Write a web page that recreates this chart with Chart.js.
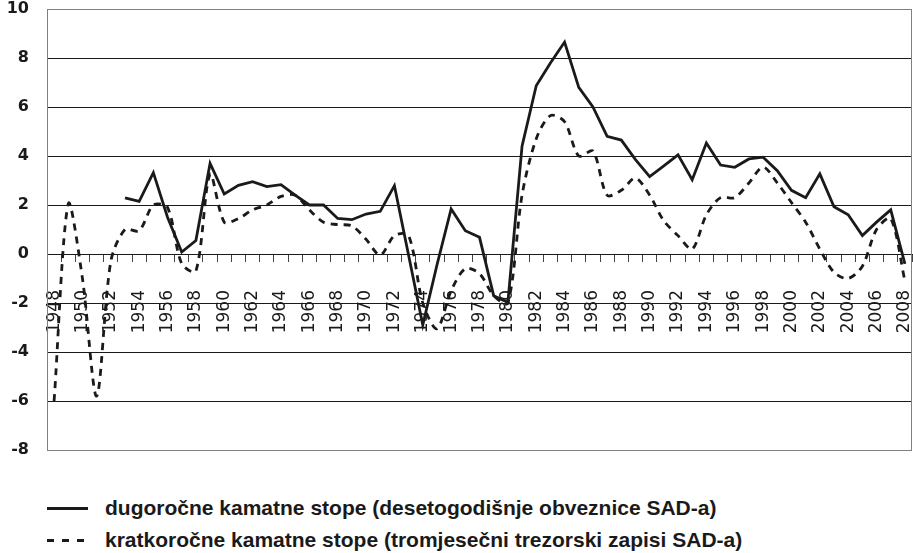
<!DOCTYPE html>
<html>
<head>
<meta charset="utf-8">
<script src="https://cdn.jsdelivr.net/npm/chart.js@4.4.1/dist/chart.umd.min.js"></script>
<style>
body{margin:0;background:#fff;width:913px;height:553px;overflow:hidden;position:relative;}
#wrap{position:absolute;left:0;top:0;width:913px;height:460px;}
.row{position:absolute;left:47px;height:30px;display:flex;align-items:center;white-space:nowrap;
  font-family:"Liberation Sans",Arial,sans-serif;font-weight:bold;font-size:21px;color:#1a1a1a;}
.sym{height:3px;}
.solid{width:41px;margin-right:17px;background:#1a1a1a;}
.dash{width:38px;margin-right:20px;background:repeating-linear-gradient(to right,#1a1a1a 0 7px,transparent 7px 15px);}
</style>
</head>
<body>
<div id="wrap"><canvas id="chart" width="913" height="460"></canvas></div>
<div class="row" style="top:493px"><span class="sym solid"></span>dugoročne kamatne stope (desetogodišnje obveznice SAD-a)</div>
<div class="row" style="top:525px"><span class="sym dash"></span>kratkoročne kamatne stope (tromjesečni trezorski zapisi SAD-a)</div>
<script>
var years=['1948','1949','1950','1951','1952','1953','1954','1955','1956','1957',
  '1958','1959','1960','1961','1962','1963','1964','1965','1966','1967',
  '1968','1969','1970','1971','1972','1973','1974','1975','1976','1977',
  '1978','1979','1980','1981','1982','1983','1984','1985','1986','1987',
  '1988','1989','1990','1991','1992','1993','1994','1995','1996','1997',
  '1998','1999','2000','2001','2002','2003','2004','2005','2006','2007','2008'];
var tickLabels=['1948','1950','1952','1954','1956','1958','1960','1962','1964','1966',
  '1968','1970','1972','1974','1976','1978','1980','1982','1984','1986','1988',
  '1990','1992','1994','1996','1998','2000','2002','2004','2006','2008'];
// long-term rates (10y bonds), starts 1953
var longRates=[null,null,null,null,null,2.29,2.15,3.32,1.5,0.08,
  0.55,3.7,2.45,2.8,2.95,2.75,2.83,2.4,2.0,2.0,
  1.45,1.4,1.63,1.74,2.79,-0.05,-2.9,-0.45,1.84,0.95,
  0.68,-1.7,-1.97,4.4,6.87,7.8,8.65,6.8,6.0,4.8,
  4.65,3.85,3.16,3.6,4.05,3.03,4.53,3.63,3.54,3.88,
  3.95,3.4,2.6,2.3,3.27,1.93,1.6,0.75,1.3,1.8,-0.4];
// short-term rates (3m bills)
var shortRates=[-6.0,2.05,-1.0,-5.8,-0.3,1.0,0.95,2.0,1.9,-0.4,
  -0.7,3.25,1.3,1.45,1.8,2.0,2.35,2.4,1.8,1.3,
  1.2,1.15,0.6,-0.05,0.75,0.75,-2.0,-3.05,-1.5,-0.6,
  -0.8,-1.7,-2.0,2.4,4.7,5.65,5.4,4.0,4.2,2.4,
  2.6,3.1,2.4,1.35,0.75,0.2,1.6,2.3,2.3,2.9,
  3.55,2.9,2.1,1.3,0.2,-0.75,-1.0,-0.5,1.0,1.45,-1.1];

var frame={
  id:'frame',
  beforeDatasetsDraw:function(c){
    var a=c.chartArea,ctx=c.ctx;
    ctx.save();
    ctx.strokeStyle='#808080';
    ctx.lineWidth=1;
    ctx.strokeRect(Math.round(a.left)+0.5,Math.round(a.top)+0.5,Math.round(a.right-a.left)-1,Math.round(a.bottom-a.top));
    ctx.restore();
  }
};

var chart=new Chart(document.getElementById('chart'),{
  type:'line',
  data:{
    labels:years,
    datasets:[{
      label:'dugoročne kamatne stope (desetogodišnje obveznice SAD-a)',
      data:longRates,
      borderColor:'#1a1a1a',
      borderWidth:2.8,
      pointRadius:0,
      tension:0,
      fill:false
    },{
      label:'kratkoročne kamatne stope (tromjesečni trezorski zapisi SAD-a)',
      data:shortRates,
      borderColor:'#1a1a1a',
      borderWidth:2.8,
      borderDash:[7,6],
      pointRadius:0,
      tension:0.3,
      fill:false
    }]
  },
  options:{
    responsive:false,
    animation:false,
    layout:{padding:{top:9,bottom:10,left:0,right:1}},
    plugins:{legend:{display:false},tooltip:{enabled:false}},
    scales:{
      x:{
        position:{y:0},
        offset:true,
        grid:{display:true,drawOnChartArea:false,drawTicks:true,tickLength:7,offset:true,color:'#444',lineWidth:1},
        border:{display:true,color:'#1a1a1a',width:1},
        ticks:{
          autoSkip:false,minRotation:90,maxRotation:90,padding:29,color:'#1a1a1a',
          font:{family:'DejaVu Sans',size:17},
          callback:function(v,i){return tickLabels.indexOf(years[i])>=0?years[i]:'';}
        },
        afterFit:function(s){s.paddingLeft=0;s.paddingRight=0;s.paddingTop=0;s.paddingBottom=0;}
      },
      y:{
        min:-8,max:10,
        ticks:{stepSize:2,padding:18,color:'#1a1a1a',font:{family:'DejaVu Sans',size:16,weight:'bold'}},
        grid:{drawTicks:false,lineWidth:1,
          color:function(ctx){var v=ctx.tick.value;return (v===10||v===-8)?'#808080':'#1a1a1a';}},
        border:{color:'#808080'},
        afterFit:function(s){s.width=47;s.paddingTop=0;s.paddingBottom=0;}
      }
    }
  },
  plugins:[frame]
});
</script>
</body>
</html>
